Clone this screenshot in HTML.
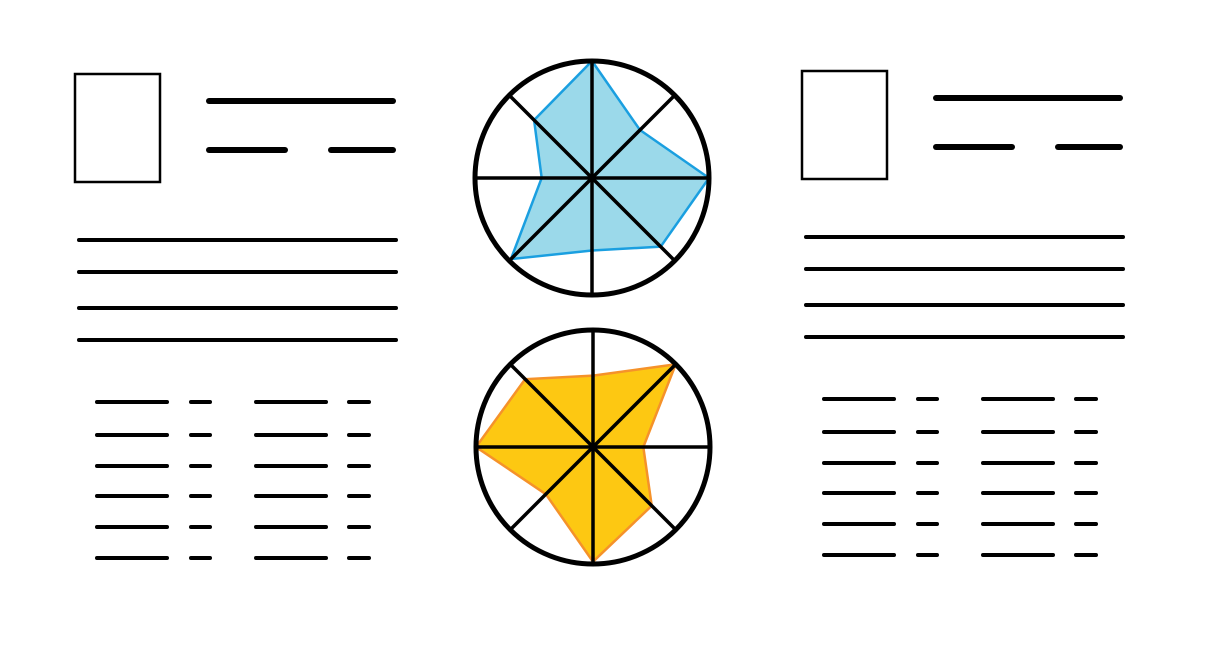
<!DOCTYPE html>
<html><head><meta charset="utf-8"><style>html,body{margin:0;padding:0;background:#fff}svg{display:block}</style></head>
<body>
<svg id="s" width="1221" height="659" viewBox="0 0 1221 659" xmlns="http://www.w3.org/2000/svg"></svg>
<script>
const axesLabels = ["N","NE","E","SE","S","SW","W","NW"];
const blueValues = [1.0, 0.58, 1.0, 0.83, 0.62, 0.98, 0.43, 0.70];
const orangeValues = [0.61, 1.0, 0.43, 0.71, 0.98, 0.57, 1.0, 0.82];
const NS = "http://www.w3.org/2000/svg";
const svg = document.getElementById('s');
function mk(tag, attrs, name, parent) {
  const e = document.createElementNS(NS, tag);
  for (const k in attrs) e.setAttribute(k, attrs[k]);
  
  
  (parent || svg).appendChild(e);
  return e;
}
function line(x1, y1, x2, y2, w, name) {
  mk('line', {x1, y1, x2, y2, stroke: '#000', 'stroke-width': w, 'stroke-linecap': 'round'}, name);
}
function card(dx, dy, prefix) {
  mk('rect', {x: 75 + dx, y: 74 + dy, width: 85, height: 108, fill: 'none', stroke: '#000', 'stroke-width': 2.5}, prefix + '-photo-box');
  line(209 + dx, 101 + dy, 393 + dx, 101 + dy, 6, prefix + '-title-line');
  line(209 + dx, 150 + dy, 285 + dx, 150 + dy, 6, prefix + '-subtitle-left');
  line(331 + dx, 150 + dy, 393 + dx, 150 + dy, 6, prefix + '-subtitle-right');
  [240, 272, 308, 340].forEach(y => line(79 + dx, y + dy, 396 + dx, y + dy, 4, prefix + '-body-line'));
  [402, 435, 466, 496, 527, 558].forEach(y => {
    line(97 + dx, y + dy, 167 + dx, y + dy, 4, prefix + '-list-label');
    line(191 + dx, y + dy, 210 + dx, y + dy, 4, prefix + '-list-value');
    line(256 + dx, y + dy, 326 + dx, y + dy, 4, prefix + '-list-label');
    line(349 + dx, y + dy, 369 + dx, y + dy, 4, prefix + '-list-value');
  });
}
card(0, 0, 'left-card');
card(727, -3, 'right-card');

function radar(cx, cy, r, values, fill, stroke, prefix) {
  const g = mk('g', {}, prefix);
  const pts = values.map((v, i) => {
    const a = -Math.PI / 2 + i * Math.PI / 4;
    return [cx + Math.cos(a) * r * v, cy + Math.sin(a) * r * v];
  });
  mk('polygon', {points: pts.map(p => p.join(',')).join(' '), fill: fill, stroke: stroke, 'stroke-width': 2.5, 'stroke-linejoin': 'miter'}, prefix + '-area', g);
  axesLabels.forEach((lab, i) => {
    const a = -Math.PI / 2 + i * Math.PI / 4;
    mk('line', {x1: cx, y1: cy, x2: cx + Math.cos(a) * r, y2: cy + Math.sin(a) * r, stroke: '#000', 'stroke-width': 3.5}, prefix + '-spoke-' + lab.toLowerCase(), g);
  });
  mk('circle', {cx, cy, r, fill: 'none', stroke: '#000', 'stroke-width': 5}, prefix + '-outline', g);
}
radar(592, 178, 117, blueValues, '#9bd9ea', '#1a9fe0', 'radar-blue');
radar(593, 447, 117, orangeValues, '#fdc812', '#f5922a', 'radar-orange');
</script>
</body></html>
